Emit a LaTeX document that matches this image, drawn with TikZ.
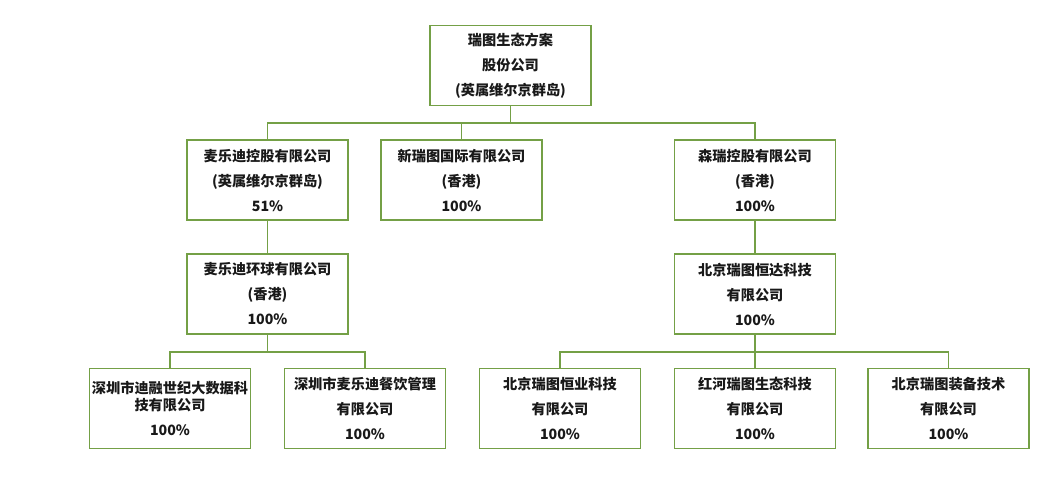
\documentclass[tikz,border=0pt]{standalone}
\usepackage{fontspec}
\newfontfamily\cjk{Noto Sans CJK SC}
\definecolor{boxgreen}{RGB}{116,160,70}
\tikzset{
  orgbox/.style={draw=boxgreen, line width=1.4pt, minimum width=161pt, minimum height=80pt,
    align=center, inner sep=0pt, font=\cjk\bfseries\fontsize{14.2pt}{25pt}\selectfont, text=black!90},
  conn/.style={draw=boxgreen, line width=1.4pt}
}
\begin{document}
\begin{tikzpicture}[x=1pt,y=-1pt]
\useasboundingbox (0,0) rectangle (1057,489);
\fill[white] (0,0) rectangle (1057,489);
\node[orgbox] (top) at (510.5,65.5) {瑞图生态方案\\股份公司\\(英属维尔京群岛)};
\node[orgbox] (A) at (267.5,180) {麦乐迪控股有限公司\\(英属维尔京群岛)\\51\%};
\node[orgbox] (B) at (461.5,180) {新瑞图国际有限公司\\(香港)\\100\%};
\node[orgbox] (C) at (755,180) {森瑞控股有限公司\\(香港)\\100\%};
\node[orgbox] (A2) at (267.5,294) {麦乐迪环球有限公司\\(香港)\\100\%};
\node[orgbox] (C2) at (755,294) {北京瑞图恒达科技\\有限公司\\100\%};
\node[orgbox] (L1) at (170,408.5) {深圳市迪融世纪大数据科\\[-8pt]技有限公司\\100\%};
\node[orgbox] (L2) at (365,408.5) {深圳市麦乐迪餐饮管理\\有限公司\\100\%};
\node[orgbox] (R1) at (560,408.5) {北京瑞图恒业科技\\有限公司\\100\%};
\node[orgbox] (R2) at (755,408.5) {红河瑞图生态科技\\有限公司\\100\%};
\node[orgbox] (R3) at (948.5,408.5) {北京瑞图装备技术\\有限公司\\100\%};
\coordinate (j1) at (510.5,123);
\coordinate (j2) at (267.5,352);
\coordinate (j3) at (755,352);
\draw[conn] (top.south) -- (j1);
\draw[conn] (A.north) |- (j1) -| (C.north);
\draw[conn] (B.north) -- (B.north |- j1);
\draw[conn] (A.south) -- (A2.north);
\draw[conn] (C.south) -- (C2.north);
\draw[conn] (A2.south) -- (j2);
\draw[conn] (L1.north) |- (j2) -| (L2.north);
\draw[conn] (C2.south) -- (j3);
\draw[conn] (R1.north) |- (j3) -| (R3.north);
\draw[conn] (R2.north) -- (j3);
\end{tikzpicture}
\end{document}
